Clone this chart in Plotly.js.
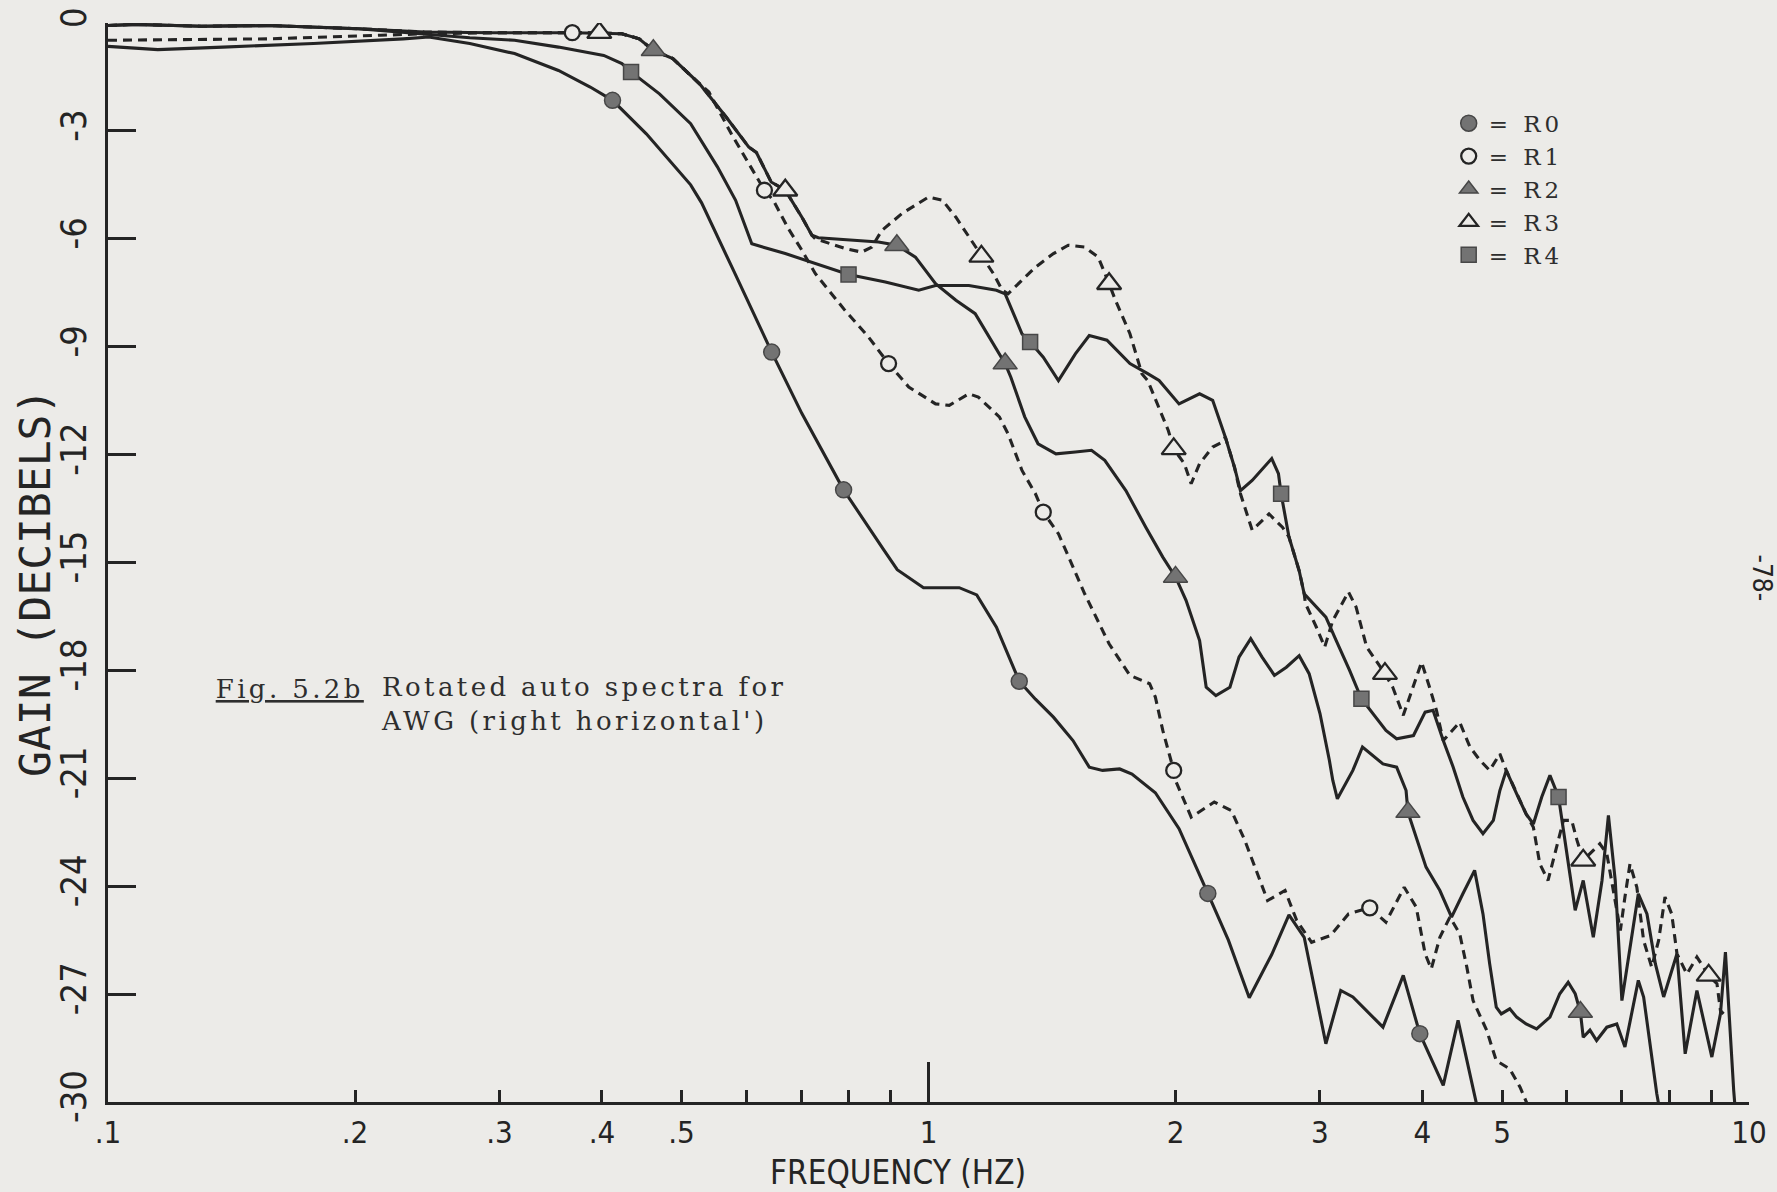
<!DOCTYPE html>
<html>
<head>
<meta charset="utf-8">
<script src="https://cdn.plot.ly/plotly-3.0.1.min.js"></script>
<style>
  html, body { margin: 0; padding: 0; background: #ecebe8; }
  #chart { width: 1777px; height: 1192px; }
  .annotation[data-index="0"] .annotation-text,
  .annotation[data-index="1"] .annotation-text { letter-spacing: 3.4px; }
  .legendtext { letter-spacing: 4px; }
</style>
</head>
<body>
<div id="chart"></div>
<script>
// ---------------- data (frequency in Hz, gain in dB) ----------------
const r0Freq = [0.100,0.115,0.138,0.178,0.229,0.246,0.276,0.313,0.354,0.387,0.412,0.453,0.513,0.529,0.581,0.644,0.701,0.788,0.882,0.916,0.986,1.09,1.145,1.21,1.29,1.35,1.42,1.50,1.57,1.63,1.71,1.77,1.89,2.02,2.19,2.32,2.46,2.62,2.75,2.87,3.05,3.18,3.29,3.58,3.79,3.97,4.24,4.42,4.67];
const r0Gain = [-0.65,-0.74,-0.67,-0.57,-0.44,-0.39,-0.57,-0.85,-1.32,-1.78,-2.15,-3.08,-4.5,-5.0,-6.97,-9.15,-10.86,-12.98,-14.65,-15.2,-15.7,-15.7,-15.9,-16.8,-18.3,-18.8,-19.3,-19.95,-20.69,-20.78,-20.74,-20.88,-21.4,-22.4,-24.2,-25.5,-27.1,-25.9,-24.8,-25.42,-28.38,-26.9,-27.08,-27.92,-26.48,-28.1,-29.54,-27.73,-30.2];

const r1Freq = [0.100,0.108,0.130,0.157,0.202,0.243,0.294,0.368,0.423,0.444,0.462,0.488,0.526,0.540,0.575,0.620,0.631,0.647,0.675,0.701,0.728,0.791,0.845,0.894,0.946,1.02,1.06,1.12,1.15,1.22,1.25,1.30,1.35,1.38,1.44,1.47,1.55,1.66,1.76,1.86,1.89,1.93,1.97,1.99,2.00,2.09,2.23,2.34,2.43,2.49,2.59,2.72,2.81,2.93,3.09,3.25,3.45,3.61,3.80,3.93,4.03,4.10,4.20,4.32,4.44,4.53,4.61,4.79,4.92,5.11,5.26,5.40];
const r1Gain = [-0.07,-0.04,-0.09,-0.07,-0.16,-0.25,-0.27,-0.27,-0.30,-0.44,-0.76,-0.99,-1.69,-1.92,-3.08,-4.37,-4.65,-4.93,-5.72,-6.32,-6.97,-7.99,-8.73,-9.47,-10.12,-10.59,-10.63,-10.31,-10.4,-10.95,-11.42,-12.44,-13.09,-13.6,-14.2,-14.66,-15.87,-17.26,-18.14,-18.37,-18.74,-19.67,-20.41,-20.78,-21.06,-22.08,-21.66,-21.9,-22.73,-23.38,-24.4,-24.12,-24.95,-25.56,-25.37,-24.77,-24.6,-25.0,-24.03,-24.58,-25.88,-26.3,-25.42,-24.86,-25.32,-26.25,-27.18,-28.01,-28.85,-29.08,-29.59,-30.2];

const r2Freq = [0.100,0.108,0.130,0.157,0.202,0.243,0.294,0.368,0.423,0.444,0.462,0.488,0.526,0.567,0.604,0.617,0.643,0.669,0.701,0.721,0.734,0.806,0.869,0.915,0.964,1.02,1.08,1.14,1.18,1.24,1.26,1.31,1.36,1.43,1.51,1.58,1.64,1.74,1.84,1.93,2.00,2.06,2.14,2.18,2.24,2.33,2.39,2.47,2.55,2.64,2.73,2.83,2.91,3.00,3.08,3.11,3.15,3.29,3.38,3.58,3.72,3.82,3.84,3.93,4.04,4.20,4.34,4.48,4.63,4.74,4.83,4.92,4.99,5.11,5.21,5.35,5.51,5.72,5.88,6.02,6.14,6.23,6.28,6.40,6.52,6.71,6.90,7.06,7.20,7.33,7.44,7.58,7.72,7.78];
const r2Gain = [-0.07,-0.04,-0.09,-0.07,-0.16,-0.25,-0.27,-0.27,-0.30,-0.44,-0.76,-0.99,-1.69,-2.62,-3.45,-3.6,-4.42,-4.65,-5.4,-5.9,-5.97,-6.03,-6.09,-6.18,-6.51,-7.25,-7.71,-8.08,-8.64,-9.47,-9.85,-10.95,-11.7,-11.98,-11.93,-11.88,-12.16,-13.0,-14.02,-14.85,-15.4,-16.05,-17.17,-18.47,-18.7,-18.47,-17.63,-17.12,-17.63,-18.14,-17.91,-17.59,-18.09,-19.2,-20.5,-21.06,-21.57,-20.78,-20.13,-20.6,-20.69,-21.34,-21.94,-22.64,-23.47,-24.12,-24.86,-24.21,-23.56,-24.77,-26.16,-27.36,-27.55,-27.41,-27.64,-27.83,-27.97,-27.64,-26.99,-26.67,-26.99,-27.5,-28.2,-28.0,-28.29,-27.92,-27.83,-28.47,-27.55,-26.62,-27.08,-28.47,-29.77,-30.2];

const r3Freq = [0.100,0.122,0.157,0.215,0.243,0.294,0.397,0.423,0.444,0.462,0.488,0.526,0.567,0.604,0.617,0.643,0.669,0.701,0.721,0.728,0.791,0.829,0.853,0.877,0.928,1.00,1.04,1.08,1.12,1.16,1.20,1.23,1.25,1.30,1.35,1.42,1.48,1.55,1.61,1.66,1.69,1.76,1.82,1.85,1.91,1.96,1.99,2.05,2.09,2.14,2.22,2.28,2.30,2.36,2.40,2.48,2.60,2.70,2.75,2.83,2.87,2.88,2.97,3.04,3.11,3.25,3.32,3.42,3.60,3.68,3.79,3.88,3.99,4.08,4.16,4.24,4.44,4.57,4.70,4.83,4.97,5.06,5.21,5.35,5.46,5.56,5.69,5.83,5.94,6.08,6.17,6.28,6.46,6.58,6.71,6.84,6.97,7.06,7.16,7.30,7.44,7.61,7.76,7.90,8.05,8.17,8.40,8.64,8.93,9.14,9.23,9.31];
const r3Gain = [-0.48,-0.46,-0.44,-0.34,-0.30,-0.27,-0.27,-0.30,-0.44,-0.76,-0.99,-1.69,-2.62,-3.45,-3.6,-4.42,-4.65,-5.4,-5.9,-6.0,-6.27,-6.37,-6.23,-5.77,-5.3,-4.84,-4.93,-5.4,-5.95,-6.49,-6.97,-7.43,-7.53,-7.15,-6.79,-6.41,-6.18,-6.23,-6.51,-7.25,-7.71,-8.64,-9.75,-9.94,-10.68,-11.33,-11.84,-12.25,-12.81,-12.25,-11.79,-11.65,-11.51,-12.35,-13.09,-14.1,-13.65,-14.02,-14.29,-15.23,-15.87,-16.14,-16.8,-17.35,-16.61,-15.82,-16.24,-17.35,-18.09,-18.47,-19.25,-18.56,-17.77,-18.47,-19.11,-19.95,-19.44,-20.13,-20.5,-20.78,-20.32,-20.78,-21.43,-21.99,-22.36,-23.38,-23.84,-22.92,-22.17,-22.17,-22.72,-23.28,-23.0,-22.82,-23.1,-24.21,-25.23,-24.3,-23.38,-24.03,-25.51,-26.25,-25.51,-24.3,-24.77,-25.88,-26.44,-25.97,-26.48,-26.71,-27.46,-27.55];

const r4Freq = [0.100,0.108,0.130,0.157,0.202,0.243,0.276,0.313,0.354,0.402,0.423,0.434,0.470,0.513,0.553,0.582,0.609,0.669,0.799,0.886,0.973,1.02,1.12,1.21,1.24,1.30,1.33,1.38,1.44,1.51,1.57,1.65,1.76,1.85,1.91,2.02,2.14,2.22,2.30,2.36,2.40,2.48,2.62,2.67,2.69,2.75,2.83,2.87,2.97,3.05,3.14,3.26,3.37,3.48,3.61,3.72,3.90,4.03,4.12,4.24,4.36,4.48,4.61,4.74,4.88,4.97,5.06,5.21,5.35,5.46,5.59,5.72,5.86,6.14,6.28,6.46,6.62,6.74,6.87,7.00,7.16,7.33,7.51,7.69,7.87,8.17,8.36,8.64,9.01,9.23,9.36,9.45,9.58,9.62];
const r4Gain = [-0.07,-0.04,-0.09,-0.07,-0.16,-0.30,-0.41,-0.48,-0.67,-0.90,-1.13,-1.36,-1.97,-2.8,-4.0,-4.93,-6.14,-6.41,-6.99,-7.2,-7.43,-7.3,-7.3,-7.43,-7.53,-8.64,-8.87,-9.29,-9.94,-9.2,-8.69,-8.82,-9.47,-9.75,-9.94,-10.59,-10.31,-10.49,-11.51,-12.35,-13.0,-12.72,-12.11,-12.53,-13.09,-14.29,-15.23,-15.87,-16.24,-16.52,-17.17,-18.0,-18.79,-19.2,-19.67,-19.9,-19.81,-19.16,-19.11,-19.95,-20.69,-21.52,-22.17,-22.54,-22.17,-21.34,-20.78,-21.43,-21.99,-22.27,-21.52,-20.92,-21.52,-24.67,-23.84,-25.42,-23.84,-22.03,-23.84,-27.18,-25.7,-24.21,-24.77,-26.16,-27.08,-25.88,-28.66,-26.9,-28.75,-27.55,-25.83,-27.55,-29.68,-30.2];

// marker positions along each curve
const r0MarkFreq = [0.412,0.644,0.788,1.29,2.19,3.97];
const r0MarkGain = [-2.15,-9.15,-12.98,-18.3,-24.2,-28.1];
const r1MarkFreq = [0.368,0.631,0.894,1.38,1.99,3.45];
const r1MarkGain = [-0.27,-4.65,-9.47,-13.6,-20.78,-24.6];
const r2MarkFreq = [0.462,0.915,1.24,2.00,3.84,6.23];
const r2MarkGain = [-0.76,-6.18,-9.47,-15.4,-21.94,-27.5];
const r3MarkFreq = [0.397,0.669,1.16,1.66,1.99,3.60,6.28,8.93];
const r3MarkGain = [-0.27,-4.65,-6.49,-7.25,-11.84,-18.09,-23.28,-26.48];
const r4MarkFreq = [0.434,0.799,1.33,2.69,3.37,5.86];
const r4MarkGain = [-1.36,-6.99,-8.87,-13.09,-18.79,-21.52];

const seriesNames = ["R0","R1","R2","R3","R4"];

// axis ticks and titles
const xLabelVals = [0.1,0.2,0.3,0.4,0.5,1,2,3,4,5,10];
const xLabelText = [".1",".2",".3",".4",".5","1","2","3","4","5","10"];
const xMinorVals = [0.6,0.7,0.8,0.9,6,7,8,9];
const xDecadeVals = [1,10];
const yTickVals = [0,-3,-6,-9,-12,-15,-18,-21,-24,-27,-30];
const yTickText = ["0","-3","-6","-9","-12","-15","-18","-21","-24","-27","-30"];
const xTitle = "FREQUENCY (HZ)";
const yTitle = "GAIN (DECIBELS)";

// ---------------- styling ----------------
const PAPER = '#ecebe8';
const INK = '#242424';
const FILL = '#737373';
const PLOTTER = '"DejaVu Sans Condensed", "DejaVu Sans", sans-serif';
const PLOTTER_MONO = '"DejaVu Sans Mono", "Liberation Mono", monospace';
const TYPE = '"DejaVu Serif", "Liberation Serif", serif';

function lineTrace(x, y, dashed) {
  return {
    x: x, y: y, type: 'scatter', mode: 'lines', showlegend: false, hoverinfo: 'skip',
    line: { color: INK, width: 3.1, dash: dashed ? '9px,6px' : 'solid' }
  };
}
function markTrace(x, y, name, symbol, filled, size) {
  return {
    x: x, y: y, type: 'scatter', mode: 'markers', name: '= ' + name,
    legendgroup: name, hoverinfo: 'skip',
    marker: {
      symbol: symbol, size: size,
      color: filled ? FILL : PAPER,
      line: { color: filled ? '#474747' : INK, width: filled ? 1.5 : 2.3 }
    }
  };
}

const data = [
  lineTrace(r0Freq, r0Gain, false),
  lineTrace(r2Freq, r2Gain, false),
  lineTrace(r4Freq, r4Gain, false),
  lineTrace(r1Freq, r1Gain, true),
  lineTrace(r3Freq, r3Gain, true),
  markTrace(r0MarkFreq, r0MarkGain, seriesNames[0], 'circle', true, 16),
  markTrace(r1MarkFreq, r1MarkGain, seriesNames[1], 'circle', false, 15),
  markTrace(r2MarkFreq, r2MarkGain, seriesNames[2], 'triangle-up', true, 21),
  markTrace(r3MarkFreq, r3MarkGain, seriesNames[3], 'triangle-up', false, 21),
  markTrace(r4MarkFreq, r4MarkGain, seriesNames[4], 'square', true, 15),
  // carrier for the second x axis that draws the long decade ticks
  { x: [1], y: [null], xaxis: 'x2', yaxis: 'y', type: 'scatter', mode: 'markers', showlegend: false, hoverinfo: 'skip' }
];

const layout = {
  width: 1777, height: 1192,
  paper_bgcolor: PAPER, plot_bgcolor: PAPER,
  margin: { l: 108, r: 28, t: 23, b: 90, pad: 0 },
  showlegend: true,
  legend: {
    x: 0.817, y: 0.927, xanchor: 'left', yanchor: 'top',
    bgcolor: 'rgba(0,0,0,0)', borderwidth: 0,
    traceorder: 'grouped', tracegroupgap: 0,
    font: { family: TYPE, size: 23, color: '#2e2e2e' }
  },
  xaxis: {
    type: 'log', range: [-1, 1], autorange: false,
    tickmode: 'array', tickvals: xLabelVals, ticktext: xLabelText,
    ticks: 'inside', ticklen: 12, tickwidth: 3, tickcolor: INK,
    minor: { tickmode: 'array', tickvals: xMinorVals, ticks: 'inside', ticklen: 12, tickwidth: 3, tickcolor: INK, showgrid: false },
    showline: true, linecolor: INK, linewidth: 3, mirror: false,
    showgrid: false, zeroline: false,
    ticklabelstandoff: 1,
    tickfont: { family: PLOTTER, size: 31, color: INK }
  },
  xaxis2: {
    type: 'log', range: [-1, 1], autorange: false, overlaying: 'x', anchor: 'y', side: 'bottom',
    tickmode: 'array', tickvals: xDecadeVals, ticks: 'inside', ticklen: 40, tickwidth: 3, tickcolor: INK,
    showticklabels: false, showline: false, showgrid: false, zeroline: false
  },
  yaxis: {
    range: [-30, 0], autorange: false,
    tickmode: 'array', tickvals: yTickVals, ticktext: yTickText,
    ticks: 'inside', ticklen: 28, tickwidth: 3, tickcolor: INK,
    tickangle: -90, ticklabelstandoff: 5,
    showline: true, linecolor: INK, linewidth: 3, mirror: false,
    showgrid: false, zeroline: false,
    tickfont: { family: PLOTTER, size: 36, color: INK }
  },
  annotations: [
    { text: '<u>Fig. 5.2b</u>', xref: 'paper', yref: 'paper', x: 0.0735, y: 0.383,
      xanchor: 'left', yanchor: 'middle', showarrow: false,
      font: { family: TYPE, size: 26, color: '#2e2e2e' } },
    { text: 'Rotated auto spectra for<br>AWG (right horizontal\')', xref: 'paper', yref: 'paper', x: 0.165, y: 0.369,
      xanchor: 'left', yanchor: 'middle', align: 'left', showarrow: false,
      font: { family: TYPE, size: 26, color: '#2e2e2e' } },
    { text: '-78-', xref: 'paper', yref: 'paper', x: 1.008, y: 0.486,
      xanchor: 'center', yanchor: 'middle', textangle: 90, showarrow: false,
      font: { family: PLOTTER, size: 26, color: INK } },
    { text: xTitle, xref: 'paper', yref: 'paper', x: 0.4814, y: -0.0658,
      xanchor: 'center', yanchor: 'middle', showarrow: false,
      font: { family: PLOTTER, size: 33, color: INK } },
    { text: yTitle, xref: 'paper', yref: 'paper', x: -0.0445, y: 0.481,
      xanchor: 'center', yanchor: 'middle', textangle: -90, showarrow: false,
      font: { family: PLOTTER_MONO, size: 43, color: INK } }
  ]
};

Plotly.newPlot('chart', data, layout, { staticPlot: true, displayModeBar: false });
</script>
</body>
</html>
